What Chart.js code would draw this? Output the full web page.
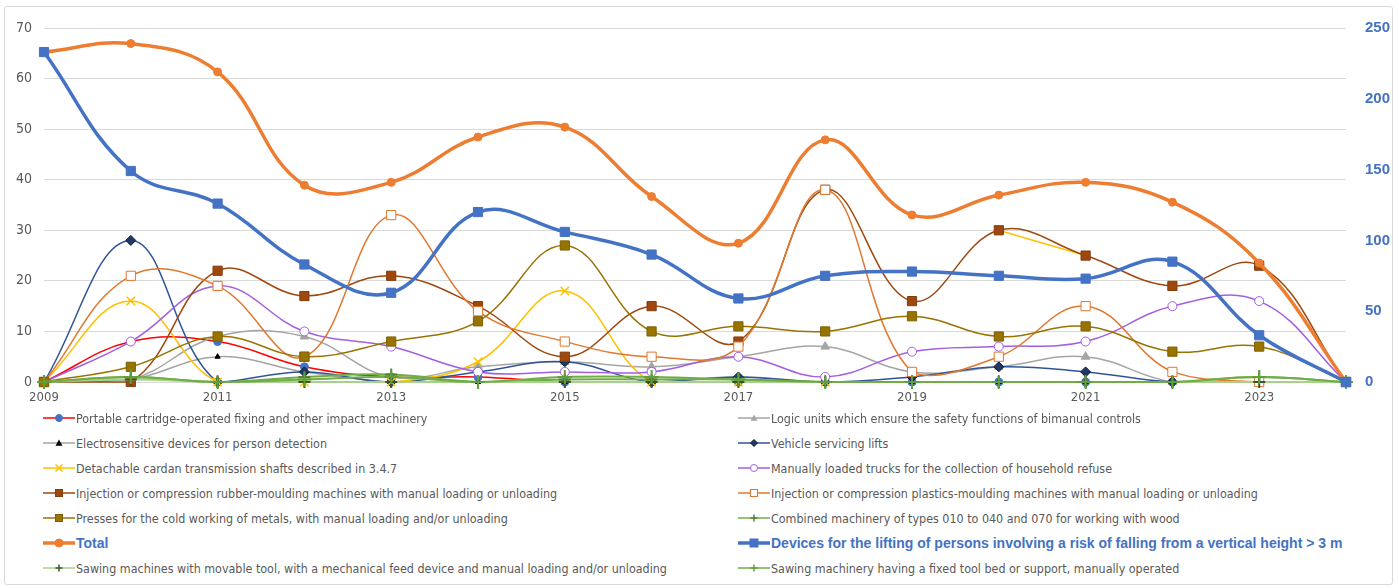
<!DOCTYPE html>
<html>
<head>
<meta charset="utf-8">
<script src="https://cdn.jsdelivr.net/npm/chart.js@4.4.0/dist/chart.umd.min.js"></script>
<style>
    body { margin: 0; background: #fff; width: 1399px; height: 588px; overflow: hidden; position: relative;
           font-family: "Liberation Sans Narrow", "DejaVu Sans Condensed", "Liberation Sans", sans-serif; }
    #frame { position: absolute; left: 4px; top: 6px; width: 1387px; height: 577px; border: 1px solid #d9d9d9; border-radius: 3px; }
    #chart { position: absolute; left: 0; top: 0; }
    .item { position: absolute; display: flex; align-items: center; height: 20px; color: #595959; font-size: 12.4px; white-space: nowrap; }
    .item svg { margin-right: 1px; }
    .item.big { color: #4472C4; font-weight: bold; font-size: 14px; font-family: "Liberation Sans", sans-serif; }
</style>
</head>
<body>
<div id="frame"></div>
<canvas id="chart" width="1399" height="410"></canvas>
<div id="legend"></div>
<script>
// categories
const years = ['2009','2010','2011','2012','2013','2014','2015','2016','2017','2018','2019','2020','2021','2022','2023','2024'];

// left axis series (units)
const portable         = [0, 8, 8, 3, 1, 1, 0, 0, 0, 0, 0, 0, 0, 0, 0, 0];
const logicUnits       = [0, 0.5, 9, 9, 1, 3, 4, 3, 5, 7, 2, 3, 5, 0, 0, 0];
const electroSensitive = [0, 0.5, 5, 2, 0, 0, 0, 0, 1, 0, 0, 0, 0, 0, 0, 0];
const vehicleLifts     = [0, 28, 0, 2, 0, 2, 4, 0, 1, 0, 1, 3, 2, 0, 0, 0];
const cardanShafts     = [0, 16, 0, 0, 0, 4, 18, 0, 0, 0, null, 30, 25, null, null, null];
const refuseTrucks     = [0, 8, 19, 10, 7, 2, 2, 2, 5, 1, 6, 7, 8, 15, 16, 0];
const rubberMoulding   = [0, 0, 22, 17, 21, 15, 5, 15, 8, 38, 16, 30, 25, 19, 23, 0];
const plasticsMoulding = [0, 21, 19, 5, 33, 14, 8, 5, 7, 38, 2, 5, 15, 2, 0, 0];
const coldPresses      = [0, 3, 9, 5, 8, 12, 27, 10, 11, 10, 13, 9, 11, 6, 7, 0];
const woodCombined     = [0, 1, 0, 1, 1.5, 0, 0.5, 0.5, 0.5, 0, 0, 0, 0, 0, 1, 0];
const sawingMovable    = [0, 0.5, 0, 0, 0, 0, 0, 0, 0, 0, 0, 0, 0, 0, 0, 0];
const sawingFixed      = [0, 1, 0, 0.5, 1, 0, 1, 1, 0.5, 0, 0, 0, 0, 0, 1, 0];

// right axis series
const total            = [233, 239, 219, 139, 141, 173, 180, 131, 98, 171, 118, 132, 141, 127, 84, 0];
const liftingDevices   = [233, 149, 126, 83, 63, 120, 106, 90, 59, 75, 78, 75, 73, 85, 33, 0];

// axis ticks
const leftTicks = [0, 10, 20, 30, 40, 50, 60, 70];
const rightTicks = [0, 50, 100, 150, 200, 250];

// series styles, in legend order
const series = [
    { label: 'Portable cartridge-operated fixing and other impact machinery', data: portable, line: '#FF0000', marker: 'circle', fill: '#4472C4', stroke: '#4472C4', r: 4 },
    { label: 'Logic units which ensure the safety functions of bimanual controls', data: logicUnits, line: '#A5A5A5', marker: 'triangle', fill: '#A5A5A5', stroke: '#A5A5A5', r: 5 },
    { label: 'Electrosensitive devices for person detection', data: electroSensitive, line: '#A5A5A5', marker: 'triangle', fill: '#000', stroke: '#000', r: 3 },
    { label: 'Vehicle servicing lifts', data: vehicleLifts, line: '#2F5597', marker: 'rectRot', fill: '#1F3864', stroke: '#0b1a33', r: 5 },
    { label: 'Detachable cardan transmission shafts described in 3.4.7', data: cardanShafts, line: '#FFC000', marker: 'crossRot', fill: '#FFC000', stroke: '#FFC000', r: 6 },
    { label: 'Manually loaded trucks for the collection of household refuse', data: refuseTrucks, line: '#A35FE0', marker: 'circle', fill: '#fff', stroke: '#A35FE0', r: 4.5 },
    { label: 'Injection or compression rubber-moulding machines with manual loading or unloading', data: rubberMoulding, line: '#9E480E', marker: 'rect', fill: '#9E480E', stroke: '#843C0C', r: 6.5 },
    { label: 'Injection or compression plastics-moulding machines with manual loading or unloading', data: plasticsMoulding, line: '#E0782F', marker: 'rect', fill: '#fff', stroke: '#E0782F', r: 6.5 },
    { label: 'Presses for the cold working of metals, with manual loading and/or unloading', data: coldPresses, line: '#997300', marker: 'rect', fill: '#997300', stroke: '#7F6000', r: 6.5 },
    { label: 'Combined machinery of types 010 to 040 and 070 for working with wood', data: woodCombined, line: '#70AD47', marker: 'cross', fill: '#548235', stroke: '#548235', r: 6 },
    { label: 'Total', data: total, line: '#ED7D31', marker: 'circle', fill: '#ED7D31', stroke: '#ED7D31', r: 4, width: 3.5, axis: 'y1', big: true, order: 1 },
    { label: 'Devices for the lifting of persons involving a risk of falling from a vertical height > 3 m', data: liftingDevices, line: '#4472C4', marker: 'rect', fill: '#4472C4', stroke: '#4472C4', r: 6.5, width: 3.5, axis: 'y1', big: true, order: 0 },
    { label: 'Sawing machines with movable tool, with a mechanical feed device and manual loading and/or unloading', data: sawingMovable, line: '#A9D18E', marker: 'cross', fill: '#375623', stroke: '#375623', r: 6 },
    { label: 'Sawing machinery having a fixed tool bed or support, manually operated', data: sawingFixed, line: '#70AD47', marker: 'cross', fill: '#70AD47', stroke: '#5FA03A', r: 7 }
];

const font = '"Liberation Sans Narrow", "DejaVu Sans Condensed", "Liberation Sans", sans-serif';

// later series are painted over earlier ones, the two bold series on top
const datasets = series.map((s, i) => ({
    label: s.label,
    data: s.data,
    yAxisID: s.axis || 'y',
    borderColor: s.line,
    borderWidth: s.width || (s.marker === 'cross' ? 2 : 1.5),
    backgroundColor: s.fill,
    pointStyle: s.marker,
    pointRadius: s.r,
    pointBackgroundColor: s.fill,
    pointBorderColor: s.stroke,
    pointBorderWidth: s.marker === 'cross' ? 2 : (s.marker === 'crossRot' ? 1.5 : 1),
    tension: 0.4,
    fill: false,
    clip: 10, // let markers on the zero line show their lower half
    order: s.order !== undefined ? s.order : 100 - i
}));

new Chart(document.getElementById('chart'), {
    type: 'line',
    data: { labels: years, datasets: datasets },
    options: {
        responsive: false,
        animation: false,
        devicePixelRatio: 1,
        layout: { padding: { top: 23, left: 0, right: 0, bottom: 0 } },
        plugins: { legend: { display: false }, tooltip: { enabled: false } },
        scales: {
            x: {
                type: 'category',
                offset: false,
                grid: { display: false, drawTicks: false },
                border: { display: true, color: '#d9d9d9' },
                ticks: {
                    autoSkip: false, maxRotation: 0, padding: 8, color: '#595959',
                    font: { family: font, size: 13 },
                    callback: (v, i) => i % 2 === 0 ? years[i] : ''
                },
                afterFit: s => { s.height = 28; }
            },
            y: {
                position: 'left',
                min: 0, max: 70,
                afterBuildTicks: s => { s.ticks = leftTicks.map(v => ({ value: v })); },
                grid: { color: '#d9d9d9', drawTicks: false },
                border: { display: false },
                ticks: { padding: 12, color: '#595959', font: { family: font, size: 14 } },
                afterFit: s => { s.width = 44; }
            },
            y1: {
                position: 'right',
                min: 0, max: 250,
                afterBuildTicks: s => { s.ticks = rightTicks.map(v => ({ value: v })); },
                grid: { display: false, drawTicks: false },
                border: { display: false },
                ticks: { padding: 19, color: '#4472C4', font: { family: '"Liberation Sans", sans-serif', size: 15, weight: 'bold' } },
                afterFit: s => { s.width = 53; }
            }
        }
    }
});

// HTML legend, two columns
function markerSvg(s) {
    const w = 32, h = 14, cx = 16, cy = 7;
    const lw = s.big ? 3.5 : 1.5;
    let m = '';
    const r = s.big ? 4 : 3.5;
    if (s.marker === 'circle') m = `<circle cx="${cx}" cy="${cy}" r="${r}" fill="${s.fill}" stroke="${s.stroke}" stroke-width="1"/>`;
    else if (s.marker === 'rect') m = `<rect x="${cx - r}" y="${cy - r}" width="${2 * r}" height="${2 * r}" fill="${s.fill}" stroke="${s.stroke}" stroke-width="1"/>`;
    else if (s.marker === 'triangle') m = `<polygon points="${cx},${cy - r} ${cx + r},${cy + r * 0.8} ${cx - r},${cy + r * 0.8}" fill="${s.fill}"/>`;
    else if (s.marker === 'rectRot') m = `<polygon points="${cx},${cy - r} ${cx + r},${cy} ${cx},${cy + r} ${cx - r},${cy}" fill="${s.fill}" stroke="${s.stroke}"/>`;
    else if (s.marker === 'crossRot') m = `<path d="M${cx - r} ${cy - r}L${cx + r} ${cy + r}M${cx + r} ${cy - r}L${cx - r} ${cy + r}" stroke="${s.stroke}" stroke-width="1.5"/>`;
    else if (s.marker === 'cross') m = `<path d="M${cx} ${cy - r}L${cx} ${cy + r}M${cx - r} ${cy}L${cx + r} ${cy}" stroke="${s.stroke}" stroke-width="1.5"/>`;
    return `<svg width="${w}" height="${h}"><line x1="0" y1="${cy}" x2="${w}" y2="${cy}" stroke="${s.line}" stroke-width="${lw}"/>${m}</svg>`;
}

const legend = document.getElementById('legend');
series.forEach((s, i) => {
    const col = i % 2, row = Math.floor(i / 2);
    const div = document.createElement('div');
    div.className = 'item' + (s.big ? ' big' : '');
    div.style.left = (col === 0 ? 43 : 738) + 'px';
    div.style.top = (408 + row * 25) + 'px';
    div.innerHTML = markerSvg(s);
    const span = document.createElement('span');
    span.textContent = s.label;
    div.appendChild(span);
    legend.appendChild(div);
});
</script>
</body>
</html>
